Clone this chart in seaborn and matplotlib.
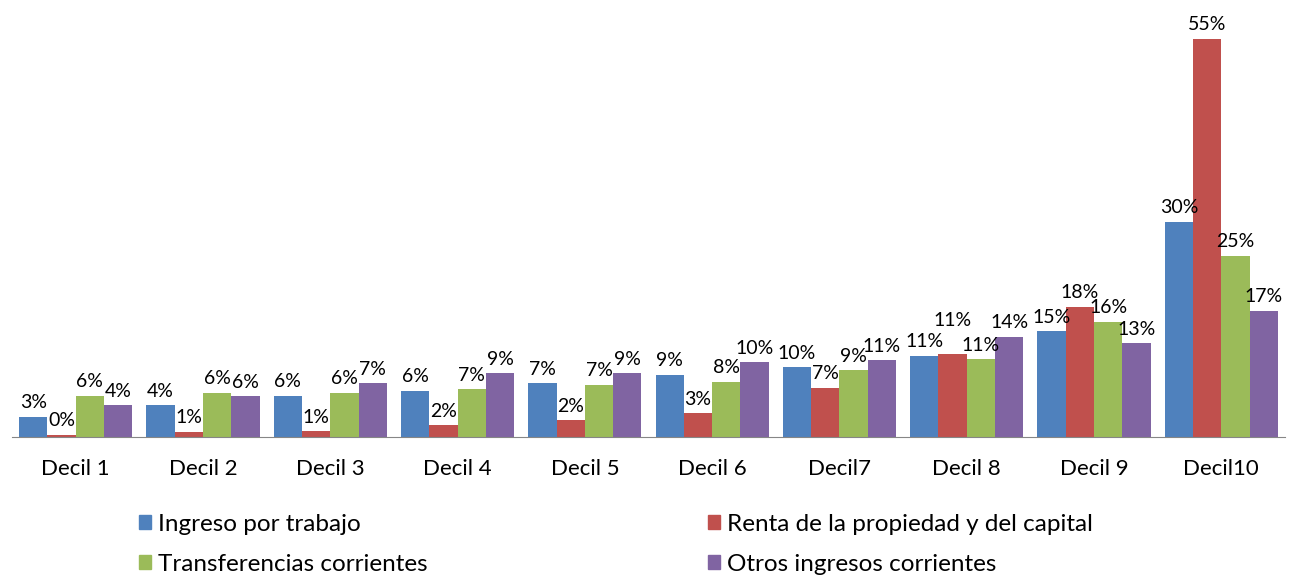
import pandas as pd
import matplotlib.pyplot as plt
import seaborn as sns
from matplotlib.patches import Patch

deciles = ['Decil 1', 'Decil 2', 'Decil 3', 'Decil 4', 'Decil 5',
           'Decil 6', 'Decil7', 'Decil 8', 'Decil 9', 'Decil10']
ingreso = [2.8, 4.4, 5.7, 6.4, 7.4, 8.6, 9.6, 11.2, 14.6, 29.7]
renta = [0.3, 0.7, 0.8, 1.6, 2.3, 3.3, 6.8, 11.4, 18.0, 54.9]
transfer = [5.7, 6.1, 6.1, 6.6, 7.2, 7.6, 9.2, 10.7, 15.9, 25.0]
otros = [4.4, 5.6, 7.4, 8.8, 8.8, 10.3, 10.6, 13.8, 12.9, 17.4]
series = ['Ingreso por trabajo', 'Renta de la propiedad y del capital',
          'Transferencias corrientes', 'Otros ingresos corrientes']
colors = ['#4F81BD', '#C0504D', '#9BBB59', '#8064A2']

sns.set_style('white')
plt.rcParams['font.family'] = ['Lato', 'DejaVu Sans']

rows = []
for name, vals in zip(series, [ingreso, renta, transfer, otros]):
    for d, v in zip(deciles, vals):
        rows.append({'decil': d, 'serie': name, 'valor': v})
df = pd.DataFrame(rows)

fig = plt.figure(figsize=(12.97, 5.76), dpi=100)
ax = fig.add_axes([12 / 1297, 139 / 576, 1273 / 1297, 435 / 576])
sns.barplot(data=df, x='decil', y='valor', hue='serie', hue_order=series,
            palette=colors, width=0.89, gap=0, saturation=1, ax=ax,
            errorbar=None, legend=False, linewidth=0)

for k, cont in enumerate(ax.containers):
    vals = [b.get_height() for b in cont]
    texts = ax.bar_label(cont, labels=[f'{v:.0f}%' for v in vals], padding=4,
                         fontsize=14, color='black')
    if k == 1:
        # etiqueta del decil 8 desplazada hacia arriba como en el original
        texts[7].xyann = (0, 18)

ax.set_xlim(-0.5, 9.5)
ax.set_ylim(0, 60)
ax.set_xlabel('')
ax.set_ylabel('')
ax.set_yticks([])
for s in ['top', 'right', 'left']:
    ax.spines[s].set_visible(False)
ax.spines['bottom'].set_color('#868686')
ax.set_xticks([i - 0.5 for i in range(11)], minor=True)
ax.tick_params(axis='x', which='minor', length=7, color='#868686', direction='out')
ax.tick_params(axis='x', which='major', length=0, pad=16, labelsize=16,
               labelcolor='black')

hs = [Patch(color=c) for c in colors]
leg_kw = dict(loc='upper left', frameon=False, fontsize=17.5, handlelength=0.5,
              handleheight=0.5, handletextpad=0.3, labelspacing=0.78,
              borderpad=0, borderaxespad=0)
l1 = fig.legend([hs[0], hs[2]], [series[0], series[2]],
                bbox_to_anchor=(139 / 1297, 62 / 576), **leg_kw)
l2 = fig.legend([hs[1], hs[3]], [series[1], series[3]],
                bbox_to_anchor=(708 / 1297, 62 / 576), **leg_kw)
for leg in (l1, l2):
    for t in leg.get_texts():
        t.set_color('black')

fig.savefig('out.png', dpi=100)
